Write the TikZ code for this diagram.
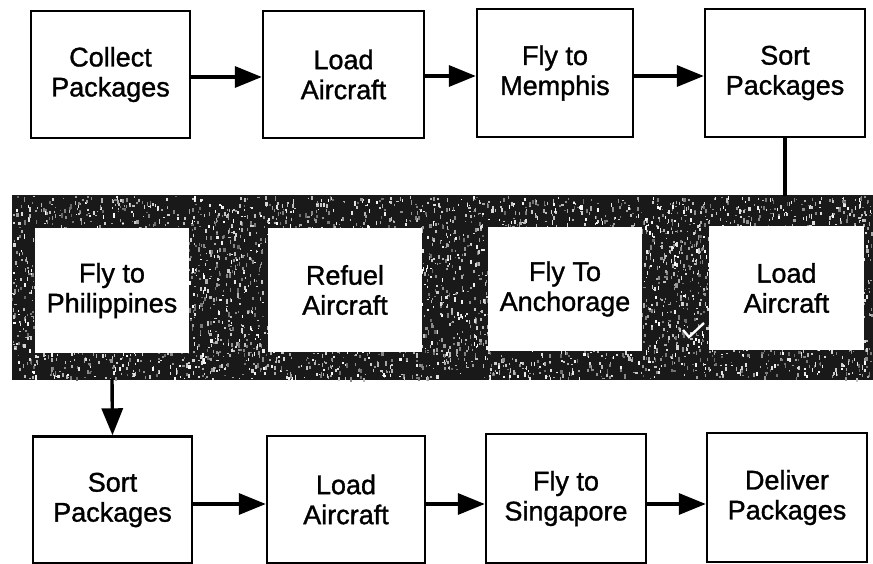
\documentclass[tikz,border=0pt]{standalone}
\usepackage{fontspec}
\setmainfont{Liberation Sans}[BoldFont=Liberation Sans,BoldFeatures={FakeBold=1.2}]
\usetikzlibrary{arrows.meta}
\begin{document}
\begin{tikzpicture}[x=1pt,y=-1pt,
  box/.style={draw=black,line width=2.4pt,fill=white,align=center,inner sep=0pt,
    font=\fontsize{27}{30}\selectfont\bfseries},
  bandbox/.style={fill=white,align=center,inner sep=0pt,
    minimum width=154pt,minimum height=124pt,font=\fontsize{27}{30}\selectfont\bfseries},
  flow/.style={line width=3.4pt,-{Triangle[length=27pt,width=21pt]}},
  link/.style={line width=3.2pt}]
\useasboundingbox (0,0) rectangle (873,564);
% textured band
\fill[black!90] (12,195) rectangle (873,380);
\pgfmathsetseed{42}
\foreach \i in {1,...,5000}{
  \pgfmathsetmacro\xx{12+859*rnd}
  \pgfmathsetmacro\yy{196+182*rnd}
  \pgfmathsetmacro\ww{0.8+1.6*rnd}
  \pgfmathsetmacro\hh{1+3.5*rnd}
  \pgfmathsetmacro\gg{40+60*rnd}
  \fill[white!\gg!black] (\xx,\yy) rectangle ++(\ww,\hh);
}
% top row
\node[box,minimum width=159pt,minimum height=127pt] (b1) at (110.5,74.5) {Collect\\Packages};
\node[box,minimum width=161pt,minimum height=127pt] (b2) at (343.5,74.5) {Load\\Aircraft};
\node[box,minimum width=156pt,minimum height=128pt] (b3) at (555,73) {Fly to\\Memphis};
\node[box,minimum width=160pt,minimum height=128pt] (b4) at (785,73) {Sort\\Packages};
% band row
\node[bandbox,minimum width=154pt,minimum height=125pt] (b5) at (112,290.5) {Fly to\\Philippines};
\node[bandbox] (b6) at (345,290) {Refuel\\Aircraft};
\node[bandbox] (b7) at (565,289) {Fly To\\Anchorage};
\node[bandbox,minimum width=155pt] (b8) at (786.5,288) {Load\\Aircraft};
% bottom row
\node[box,minimum width=159pt,minimum height=127pt] (b9) at (112.5,500) {Sort\\Packages};
\node[box,minimum width=158pt,minimum height=127pt] (b10) at (346,499.5) {Load\\Aircraft};
\node[box,minimum width=160pt,minimum height=129pt] (b11) at (566,498.5) {Fly to\\Singapore};
\node[box,minimum width=160pt,minimum height=129pt] (b12) at (787,497.5) {Deliver\\Packages};
% connectors
\draw[flow] (b1.east |- 0,77) -- (b2.west |- 0,77);
\draw[flow] (b2.east |- 0,76) -- (b3.west |- 0,76);
\draw[flow] (b3.east |- 0,76) -- (b4.west |- 0,76);
\coordinate (bandtop) at (b4.south |- 0,196);
\draw[link] (b4.south) -- (bandtop);
\coordinate (bandbot) at (b5.south |- 0,379);
\draw[flow] (bandbot) -- (b9.north);
\draw[flow] (b9.east |- 0,504) -- (b10.west |- 0,504);
\draw[flow] (b10.east |- 0,504) -- (b11.west |- 0,504);
\draw[flow] (b11.east |- 0,504) -- (b12.west |- 0,504);
% small white tick in band
\draw[white,line width=2.4pt] (683,330) -- (689,337) -- (704,323);
\end{tikzpicture}
\end{document}
